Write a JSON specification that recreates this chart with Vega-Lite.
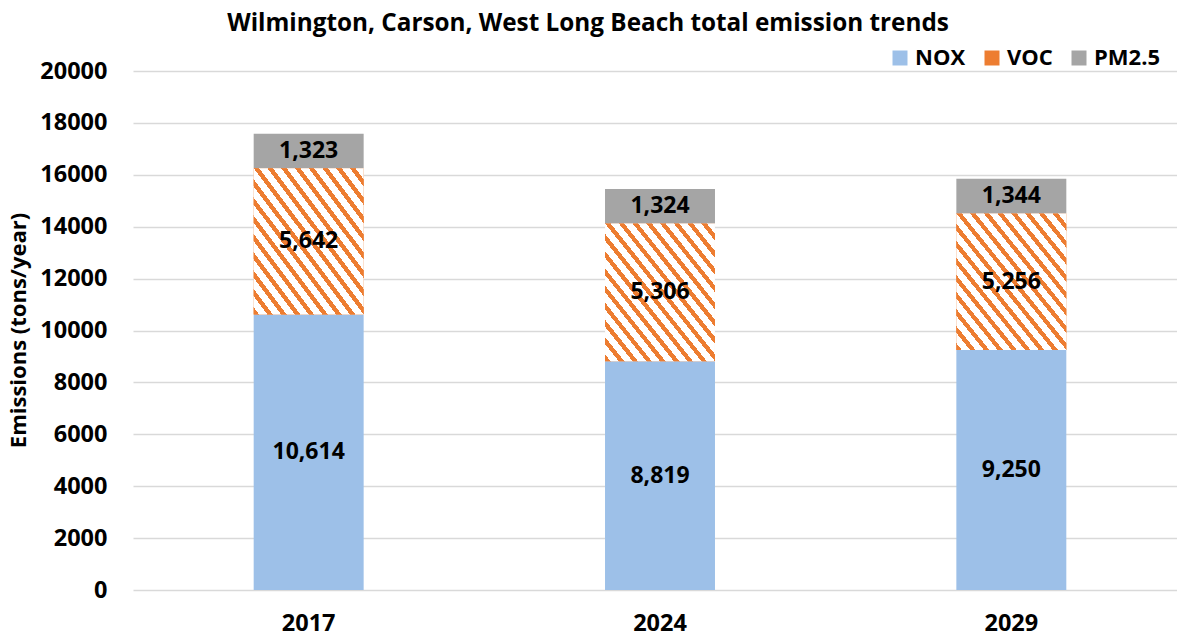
{
  "$schema": "https://vega.github.io/schema/vega-lite/v6.json",
  "autosize": {"type": "none"},
  "padding": {"left": 133, "top": 71, "right": 0, "bottom": 45},
  "width": 1054,
  "height": 519,
  "background": "#FFFFFF",
  "title": {
    "text": "Wilmington, Carson, West Long Beach total emission trends",
    "font": "Open Sans",
    "fontSize": 24.3,
    "fontWeight": "bold",
    "color": "#000000",
    "anchor": "middle",
    "baseline": "alphabetic",
    "frame": "group",
    "dx": -72,
    "dy": 26,
    "offset": 18
  },
  "data": {
    "values": [
      {"year": "2017", "pollutant": "NOX", "value": 10614},
      {"year": "2017", "pollutant": "VOC", "value": 5642},
      {"year": "2017", "pollutant": "PM2.5", "value": 1323},
      {"year": "2024", "pollutant": "NOX", "value": 8819},
      {"year": "2024", "pollutant": "VOC", "value": 5306},
      {"year": "2024", "pollutant": "PM2.5", "value": 1324},
      {"year": "2029", "pollutant": "NOX", "value": 9250},
      {"year": "2029", "pollutant": "VOC", "value": 5256},
      {"year": "2029", "pollutant": "PM2.5", "value": 1344}
    ]
  },
  "transform": [
    {"calculate": "indexof(['NOX','VOC','PM2.5'], datum.pollutant)", "as": "ord"},
    {"stack": "value", "groupby": ["year"], "sort": [{"field": "ord", "order": "ascending"}], "as": ["y0", "y1"]},
    {"calculate": "(datum.y0 + datum.y1) / 2", "as": "ymid"}
  ],
  "encoding": {
    "x": {
      "field": "year",
      "type": "nominal",
      "scale": {"paddingInner": 0.687, "paddingOuter": 0.3435},
      "axis": {
        "title": null,
        "labelAngle": 0,
        "labelFont": "Open Sans",
        "labelFontSize": 23.5,
        "labelFontWeight": "bold",
        "labelColor": "#000000",
        "labelBaseline": "middle",
        "labelPadding": 33,
        "ticks": false,
        "domain": false,
        "grid": false
      }
    }
  },
  "layer": [
    {
      "mark": {"type": "bar", "strokeWidth": 0},
      "encoding": {
        "y": {
          "field": "y0",
          "type": "quantitative",
          "scale": {"domain": [0, 20000], "nice": false},
          "axis": {
            "values": [0, 2000, 4000, 6000, 8000, 10000, 12000, 14000, 16000, 18000, 20000],
            "format": "d",
            "title": "Emissions (tons/year)",
            "titleFont": "Open Sans",
            "titleFontSize": 22,
            "titleFontWeight": "bold",
            "titleColor": "#000000",
            "titleAngle": -90,
            "titleAlign": "center",
            "titleBaseline": "middle",
            "titleX": -115,
            "titleY": 259,
            "labelFont": "Open Sans",
            "labelFontSize": 23.5,
            "labelFontWeight": "bold",
            "labelColor": "#000000",
            "labelPadding": 26,
            "ticks": false,
            "domain": false,
            "grid": true,
            "gridColor": "#D9D9D9",
            "gridWidth": 1.5
          }
        },
        "y2": {"field": "y1"},
        "color": {
          "field": "pollutant",
          "type": "nominal",
          "sort": ["NOX", "VOC", "PM2.5"],
          "scale": {"domain": ["NOX", "VOC", "PM2.5"], "range": ["#9DC0E8", "#ED7D31", "#A5A5A5"]},
          "legend": {
            "title": null,
            "orient": "none",
            "direction": "horizontal",
            "legendX": 756,
            "legendY": -24,
            "padding": 0,
            "symbolType": "square",
            "symbolSize": 225,
            "symbolStrokeWidth": 0,
            "labelFont": "Open Sans",
            "labelFontSize": 22,
            "labelFontWeight": "bold",
            "labelColor": "#000000",
            "labelOffset": 4,
            "columnPadding": 15
          }
        }
      }
    },
    {
      "transform": [{"filter": "datum.pollutant === 'VOC'"}],
      "mark": {
        "type": "bar",
        "strokeWidth": 0,
        "fill": {
          "gradient": "linear",
          "x1": 0, "y1": 1, "x2": 1, "y2": 0,
          "stops": [
            {"offset": 0, "color": "#ED7D31"}, {"offset": 0.025, "color": "#ED7D31"}, {"offset": 0.025, "color": "#FFFFFF"}, {"offset": 0.0625, "color": "#FFFFFF"},
            {"offset": 0.0625, "color": "#ED7D31"}, {"offset": 0.0875, "color": "#ED7D31"}, {"offset": 0.0875, "color": "#FFFFFF"}, {"offset": 0.125, "color": "#FFFFFF"},
            {"offset": 0.125, "color": "#ED7D31"}, {"offset": 0.15, "color": "#ED7D31"}, {"offset": 0.15, "color": "#FFFFFF"}, {"offset": 0.1875, "color": "#FFFFFF"},
            {"offset": 0.1875, "color": "#ED7D31"}, {"offset": 0.2125, "color": "#ED7D31"}, {"offset": 0.2125, "color": "#FFFFFF"}, {"offset": 0.25, "color": "#FFFFFF"},
            {"offset": 0.25, "color": "#ED7D31"}, {"offset": 0.275, "color": "#ED7D31"}, {"offset": 0.275, "color": "#FFFFFF"}, {"offset": 0.3125, "color": "#FFFFFF"},
            {"offset": 0.3125, "color": "#ED7D31"}, {"offset": 0.3375, "color": "#ED7D31"}, {"offset": 0.3375, "color": "#FFFFFF"}, {"offset": 0.375, "color": "#FFFFFF"},
            {"offset": 0.375, "color": "#ED7D31"}, {"offset": 0.4, "color": "#ED7D31"}, {"offset": 0.4, "color": "#FFFFFF"}, {"offset": 0.4375, "color": "#FFFFFF"},
            {"offset": 0.4375, "color": "#ED7D31"}, {"offset": 0.4625, "color": "#ED7D31"}, {"offset": 0.4625, "color": "#FFFFFF"}, {"offset": 0.5, "color": "#FFFFFF"},
            {"offset": 0.5, "color": "#ED7D31"}, {"offset": 0.525, "color": "#ED7D31"}, {"offset": 0.525, "color": "#FFFFFF"}, {"offset": 0.5625, "color": "#FFFFFF"},
            {"offset": 0.5625, "color": "#ED7D31"}, {"offset": 0.5875, "color": "#ED7D31"}, {"offset": 0.5875, "color": "#FFFFFF"}, {"offset": 0.625, "color": "#FFFFFF"},
            {"offset": 0.625, "color": "#ED7D31"}, {"offset": 0.65, "color": "#ED7D31"}, {"offset": 0.65, "color": "#FFFFFF"}, {"offset": 0.6875, "color": "#FFFFFF"},
            {"offset": 0.6875, "color": "#ED7D31"}, {"offset": 0.7125, "color": "#ED7D31"}, {"offset": 0.7125, "color": "#FFFFFF"}, {"offset": 0.75, "color": "#FFFFFF"},
            {"offset": 0.75, "color": "#ED7D31"}, {"offset": 0.775, "color": "#ED7D31"}, {"offset": 0.775, "color": "#FFFFFF"}, {"offset": 0.8125, "color": "#FFFFFF"},
            {"offset": 0.8125, "color": "#ED7D31"}, {"offset": 0.8375, "color": "#ED7D31"}, {"offset": 0.8375, "color": "#FFFFFF"}, {"offset": 0.875, "color": "#FFFFFF"},
            {"offset": 0.875, "color": "#ED7D31"}, {"offset": 0.9, "color": "#ED7D31"}, {"offset": 0.9, "color": "#FFFFFF"}, {"offset": 0.9375, "color": "#FFFFFF"},
            {"offset": 0.9375, "color": "#ED7D31"}, {"offset": 0.9625, "color": "#ED7D31"}, {"offset": 0.9625, "color": "#FFFFFF"}, {"offset": 1, "color": "#FFFFFF"}
          ]
        }
      },
      "encoding": {
        "y": {"field": "y0", "type": "quantitative"},
        "y2": {"field": "y1"}
      }
    },
    {
      "mark": {
        "type": "text",
        "font": "Open Sans",
        "fontSize": 23,
        "fontWeight": "bold",
        "color": "#000000",
        "align": "center",
        "baseline": "middle"
      },
      "encoding": {
        "y": {"field": "ymid", "type": "quantitative"},
        "text": {"field": "value", "type": "quantitative", "format": ","}
      }
    }
  ],
  "config": {
    "view": {"stroke": null}
  }
}
